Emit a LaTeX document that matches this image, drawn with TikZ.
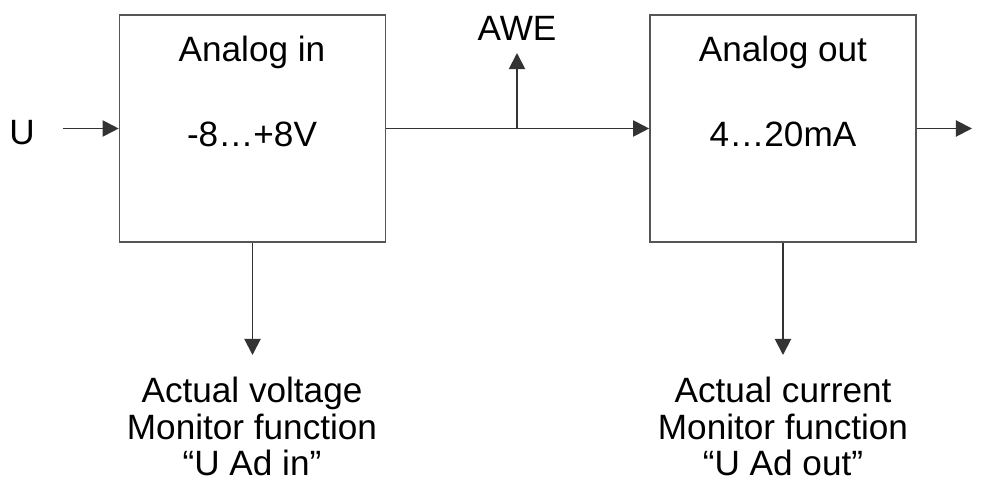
\documentclass[tikz,border=0pt]{standalone}
\usepackage{fontspec}
\setmainfont{Liberation Sans}
\usetikzlibrary{arrows.meta}

\definecolor{lineGray}{HTML}{333333}
\definecolor{boxGray}{HTML}{555555}

\newcommand*{\boxW}{6.65cm}
\newcommand*{\boxH}{5.68cm}

\tikzset{
    block/.style={draw=boxGray,line width=1.1pt,minimum width=\boxW,minimum height=\boxH,inner sep=0pt},
    txt/.style={inner sep=0pt,font=\fontsize{25}{26}\selectfont},
    sig/.style={draw=lineGray,line width=1.4pt,-{Triangle[length=11.5pt,width=11.5pt]}},
}

\begin{document}
\begin{tikzpicture}[x=0.025cm,y=-0.025cm]
    \useasboundingbox (0,0) rectangle (1008,492);

    % the two blocks
    \node [block] (ain)  at (252.5,128.5) {};
    \node [block] (aout) at (783,128.5) {};

    \node [txt,anchor=base] (ainName)   at (252,62)  {Analog in};
    \node [txt,anchor=base] (ainRange)  at (252,147) {-8…+8V};
    \node [txt,anchor=base] (aoutName)  at (783,62)  {Analog out};
    \node [txt,anchor=base] (aoutRange) at (783,147) {4…20mA};

    \node [txt,anchor=base] (U)   at (22,145) {U};
    \node [txt,anchor=base] (AWE) at (517,41) {AWE};

    \node [txt,align=center,anchor=north] (monIn)  at (252,377)
        {Actual voltage\\Monitor function\\“U Ad in”};
    \node [txt,align=center,anchor=north] (monOut) at (783,377)
        {Actual current\\Monitor function\\“U Ad out”};

    % free ends
    \coordinate (uIn)    at (63,128.5);
    \coordinate (tap)    at (517,128.5);
    \coordinate (aweTip) at (517,53);
    \coordinate (outEnd) at (972,128.5);
    \coordinate (monInTip)  at (252.5,355);
    \coordinate (monOutTip) at (783,355);

    % signals
    \draw [sig] (uIn) -- (ain.west);
    \draw [sig] (ain.east) -- (aout.west);
    \draw [sig] (tap) -- (aweTip);
    \draw [sig] (aout.east) -- (outEnd);
    \draw [sig] (ain.south) -- (monInTip);
    \draw [sig] (aout.south) -- (monOutTip);

\end{tikzpicture}
\end{document}
